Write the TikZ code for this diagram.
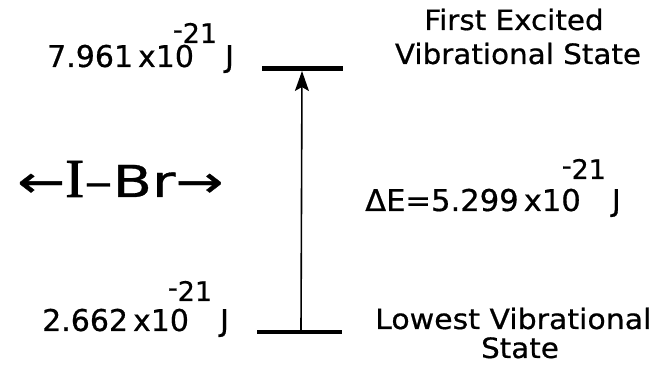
\documentclass[tikz,border=0pt]{standalone}
\usepackage{fontspec}
\setmainfont{DejaVu Sans}[FakeBold=0.6]
\newfontfamily\serifI{Liberation Serif}[FakeBold=1.5]
\usetikzlibrary{arrows.meta}
\begin{document}
\begin{tikzpicture}[x=1pt,y=-1pt,
  lbl/.style={inner sep=0pt, font=\fontsize{30}{34}\selectfont},
  ttl/.style={inner sep=0pt, font=\fontsize{28}{31}\selectfont, align=center},
  level/.style={line width=5pt},
  levelb/.style={line width=4pt},
  trans/.style={line width=1.6pt, -{Stealth[length=20pt,width=14pt,inset=4pt]}}]
\useasboundingbox (0,0) rectangle (667,371);
\newcommand{\ex}[1]{\raisebox{#1}{\fontsize{27}{31}\selectfont \raisebox{4pt}{-}21}}
% energy levels
\coordinate (t1) at (262,69);
\coordinate (t2) at (343,69);
\coordinate (b1) at (257,332);
\coordinate (b2) at (342,332);
\draw[level] (t1) -- (t2);
\draw[levelb] (b1) -- (b2);
\coordinate (ttop) at (302,71);
\coordinate (tbot) at (301,330);
\draw[trans] (tbot) -- (ttop);
% energy labels
\node[lbl, anchor=base west] (e1) at (47,67) {7.961\,x10\kern-21pt\ex{24pt}\kern8pt J};
\node[lbl, anchor=base west] (e0) at (42,331) {2.662\,x10\kern-21pt\ex{30pt}\kern8pt J};
\node[lbl, anchor=base west] (de) at (365,211) {\scalebox{1.02}[1]{ΔE=5.299\,x10}\kern-19pt\ex{32pt}\kern6pt J};
% state names
\node[ttl, anchor=base] (s1a) at (514,30) {\scalebox{1.05}[1]{First Excited}};
\node[ttl, anchor=base] (s1b) at (518,64) {\scalebox{1.05}[1]{Vibrational State}};
\node[ttl, anchor=base west] (s0a) at (375,329) {\scalebox{1.07}[1]{Lowest Vibrational}};
\node[ttl, anchor=base] (s0b) at (520,358) {\scalebox{1.05}[1]{State}};
% molecule
\node[inner sep=0pt, anchor=base west, font=\fontsize{44}{50}\selectfont] (mol) at (17,197) {\scalebox{1.3}[1]{←{\serifI\scalebox{1}[1.25]{I}}–Br→}};
\end{tikzpicture}
\end{document}
